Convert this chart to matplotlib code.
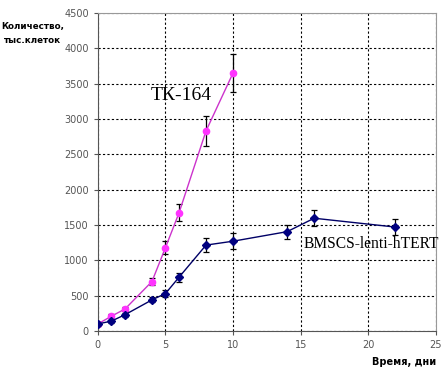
import matplotlib; matplotlib.use("Agg")
import matplotlib.pyplot as plt

# TK-164 growth
days_tk = [0, 1, 2, 4, 5, 6, 8, 10]
cells_tk = [100, 210, 310, 700, 1180, 1670, 2830, 3650]
err_tk = [30, 30, 30, 50, 90, 120, 210, 270]

# BMSCS-lenti-hTERT growth
days_bm = [0, 1, 2, 4, 5, 6, 8, 10, 14, 16, 22]
cells_bm = [100, 140, 230, 440, 530, 760, 1215, 1270, 1405, 1595, 1470]
err_bm = [20, 20, 25, 35, 50, 60, 95, 110, 100, 115, 110]

xticks = [0, 5, 10, 15, 20, 25]
yticks = list(range(0, 4501, 500))

fig = plt.figure(figsize=(4.47, 3.77), dpi=100)
ax = fig.add_axes([0.219, 0.122, 0.756, 0.844])

ax.errorbar(days_tk, cells_tk, yerr=err_tk, color="#cc33cc", lw=1.0, marker="o", ms=4.5,
            mfc="#ff33ff", mec="#ff33ff", ecolor="black", elinewidth=0.9, capsize=2.5, capthick=0.9, zorder=3)
ax.errorbar(days_bm, cells_bm, yerr=err_bm, color="#000066", lw=1.0, marker="D", ms=3.8,
            mfc="#000080", mec="#000080", ecolor="black", elinewidth=0.9, capsize=2.5, capthick=0.9, zorder=3)

ax.set_xlim(0, 25); ax.set_ylim(0, 4500)
ax.set_xticks(xticks); ax.set_yticks(yticks)
ax.grid(True, color="black", ls=(0, (2, 2)), lw=0.8)
ax.tick_params(labelsize=7, colors="#555555", length=3, width=0.8)
for s in ["top", "right"]:
    ax.spines[s].set_color("#999999")
for s in ["left", "bottom"]:
    ax.spines[s].set_color("#555555")

ax.text(3.9, 3270, "ТК-164", family="Liberation Serif", fontsize=14)
ax.text(15.2, 1180, "BMSCS-lenti-hTERT", family="Liberation Serif", fontsize=11.2)

fig.text(0.073, 0.911, "Количество,\nтыс.клеток", ha="center", va="center", fontsize=6.3,
         fontweight="bold", linespacing=1.6)
fig.text(0.975, 0.04, "Время, дни", ha="right", va="center", fontsize=7, fontweight="bold")

fig.savefig("out.png", dpi=100)
